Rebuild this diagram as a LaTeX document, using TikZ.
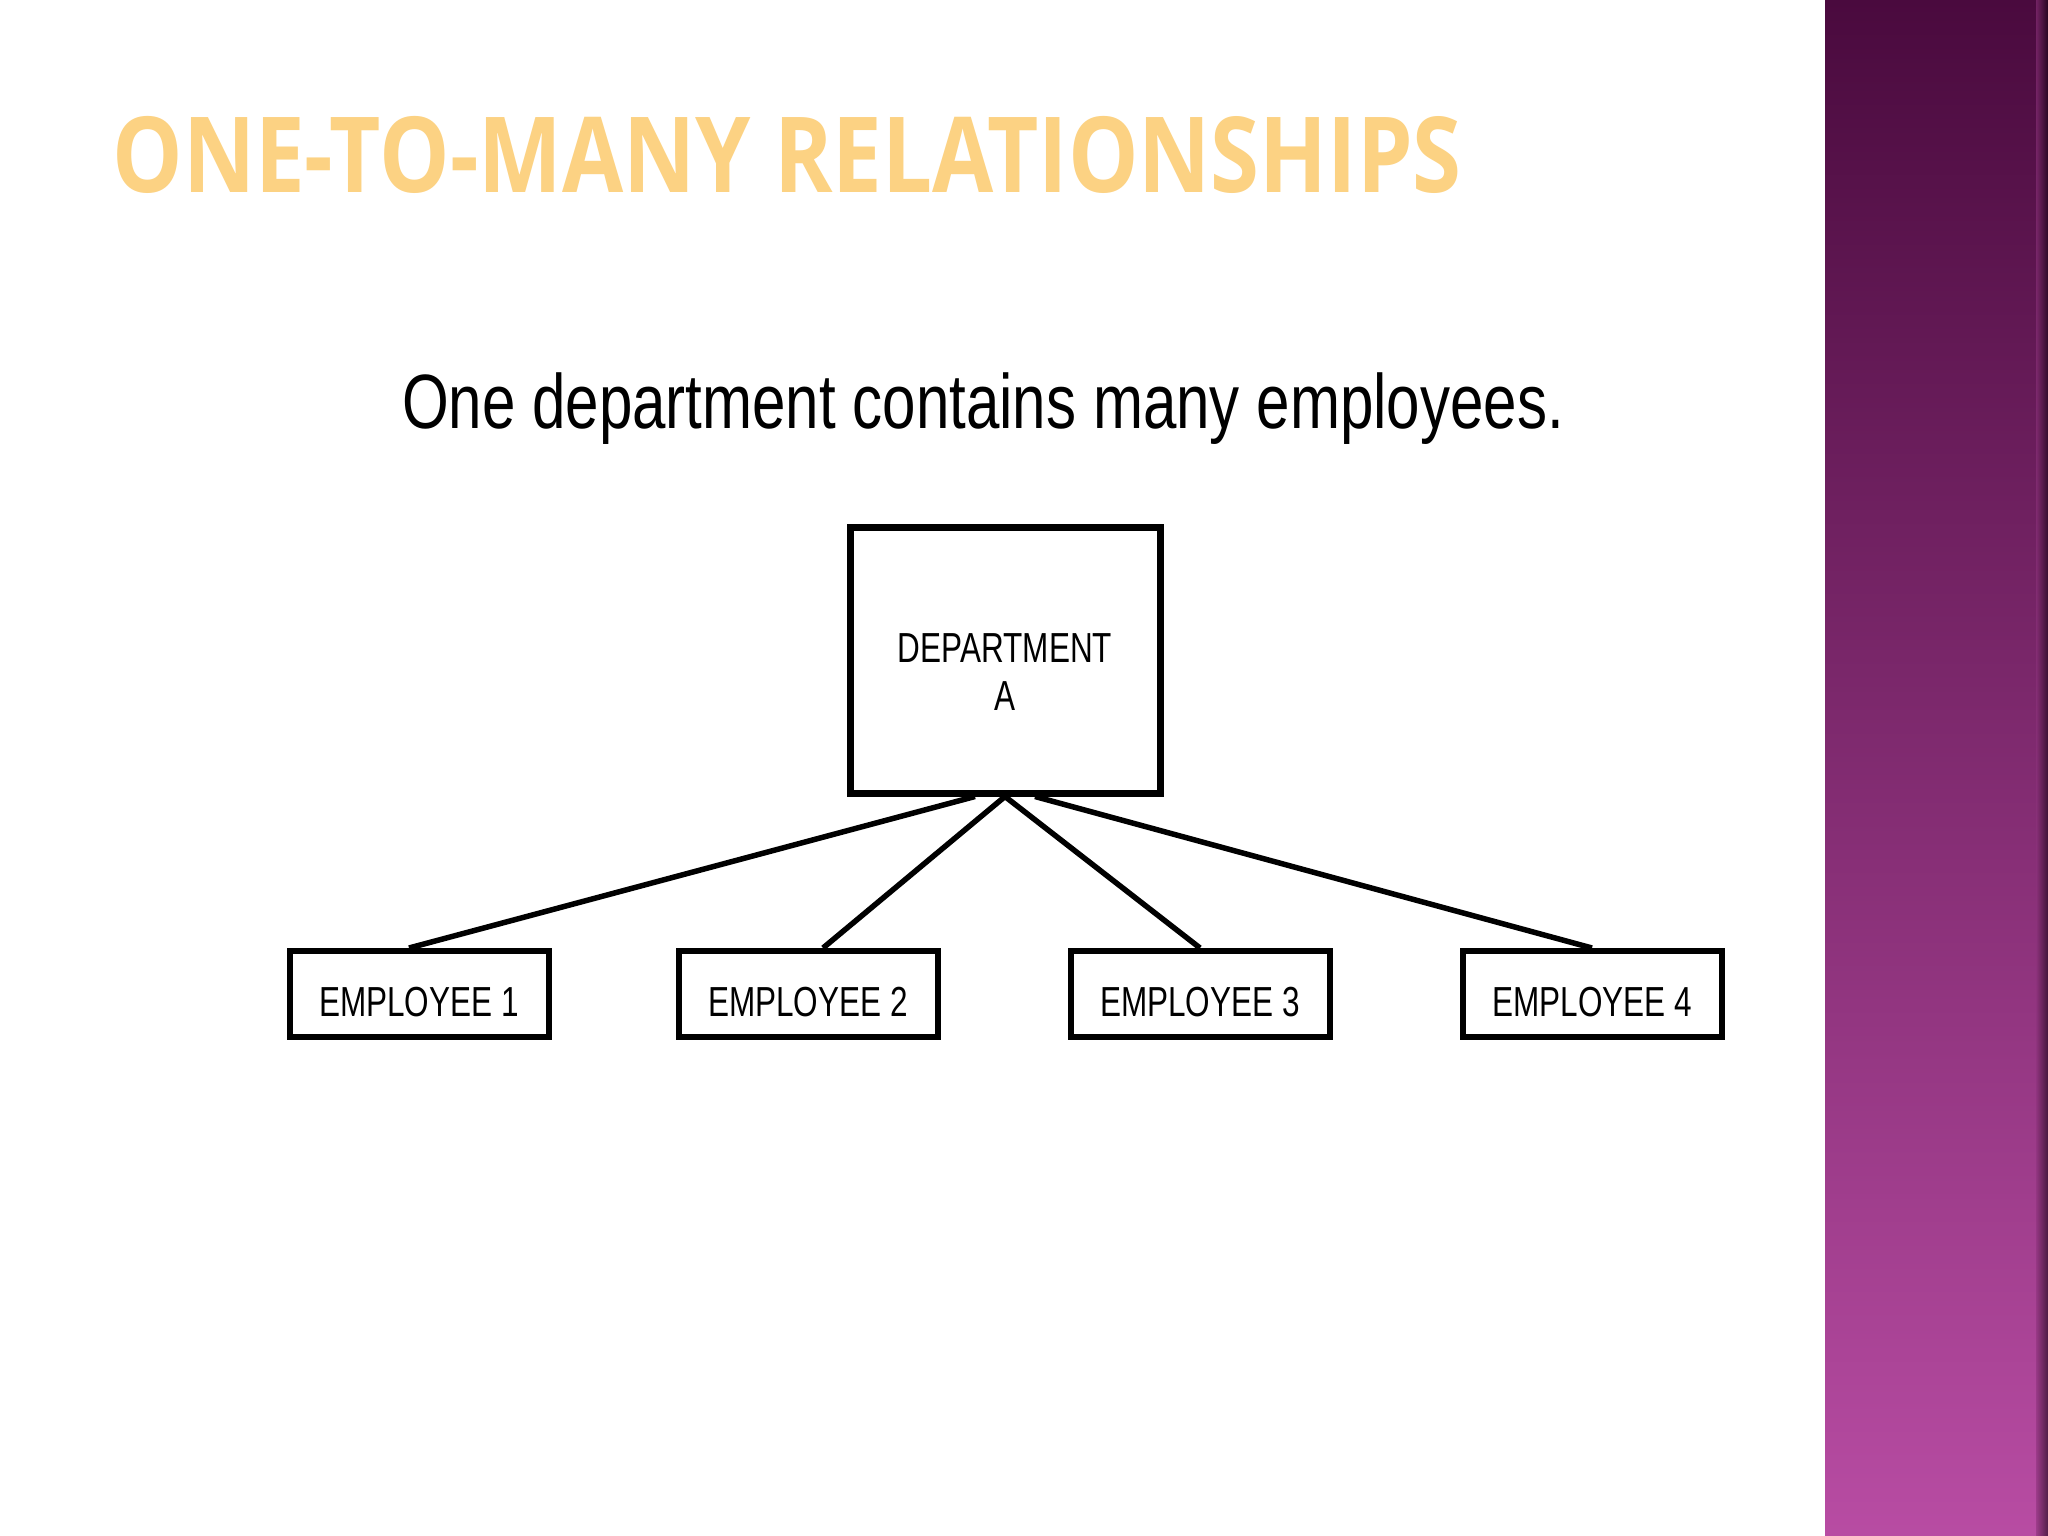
\documentclass[tikz,border=0pt]{standalone}
\usepackage{fontspec}
\setmainfont{Liberation Sans}
\newfontfamily\titlefont[FakeStretch=0.845]{Open Sans}
\newfontfamily\captionfont[FakeStretch=0.78]{Liberation Sans}
\newfontfamily\boxfont[FakeStretch=0.75]{Liberation Sans}
\definecolor{titleorange}{HTML}{FCD283}
\definecolor{bartop}{HTML}{4A0A3E}
\definecolor{barbottom}{HTML}{B84CA3}
\tikzset{
  entity/.style = {draw, line width = 6pt, inner sep = 0pt, fill = white,
                   text height = 44pt, text depth = 0pt,
                   font = \boxfont\fontsize{42}{48}\selectfont},
  link/.style   = {line width = 5.5pt}
}
\begin{document}
\begin{tikzpicture}[x = 1pt, y = -1pt]
      \useasboundingbox (0,0) rectangle (2048,1536);
      \fill [white] (0,0) rectangle (2048,1536);
      % side bar
      \shade [top color = bartop, bottom color = barbottom] (1825,0) rectangle (2048,1536);
      \shade [left color = barbottom!60!bartop, right color = black!80!bartop, opacity = .6]
        (2036,0) rectangle (2048,1536);
      % headings
      \node [font = \titlefont\bfseries\fontsize{105}{110}\selectfont, text = titleorange]
        (title) at (787,155) {ONE-TO-MANY RELATIONSHIPS};
      \node [font = \captionfont\fontsize{77}{80}\selectfont, anchor = base]
        (caption) at (983,428) {One department contains many employees.};
      % entities
      \node [draw, line width = 7pt, inner sep = 0pt, fill = white,
             minimum width = 310pt, minimum height = 266pt]
        (dept) at (1005,660) {};
      \node [font = \boxfont\fontsize{42}{48}\selectfont, align = center]
        (deptname) at ([yshift = -12pt]dept.center) {DEPARTMENT\\A};
      \node [entity, minimum width = 259pt, minimum height = 86pt] (emp1) at (419,994) {EMPLOYEE 1};
      \node [entity, minimum width = 259pt, minimum height = 86pt] (emp2) at (808,994) {EMPLOYEE 2};
      \node [entity, minimum width = 259pt, minimum height = 86pt] (emp3) at (1200,994) {EMPLOYEE 3};
      \node [entity, minimum width = 259pt, minimum height = 86pt] (emp4) at (1592,994) {EMPLOYEE 4};
      % one-to-many links
      \draw [link] ([xshift = -30pt]dept.south) -- ([xshift = -10pt]emp1.north);
      \draw [link] (dept.south) -- ([xshift = 15pt]emp2.north);
      \draw [link] (dept.south) -- (emp3.north);
      \draw [link] ([xshift = 30pt]dept.south) -- (emp4.north);
    \end{tikzpicture}
\end{document}
